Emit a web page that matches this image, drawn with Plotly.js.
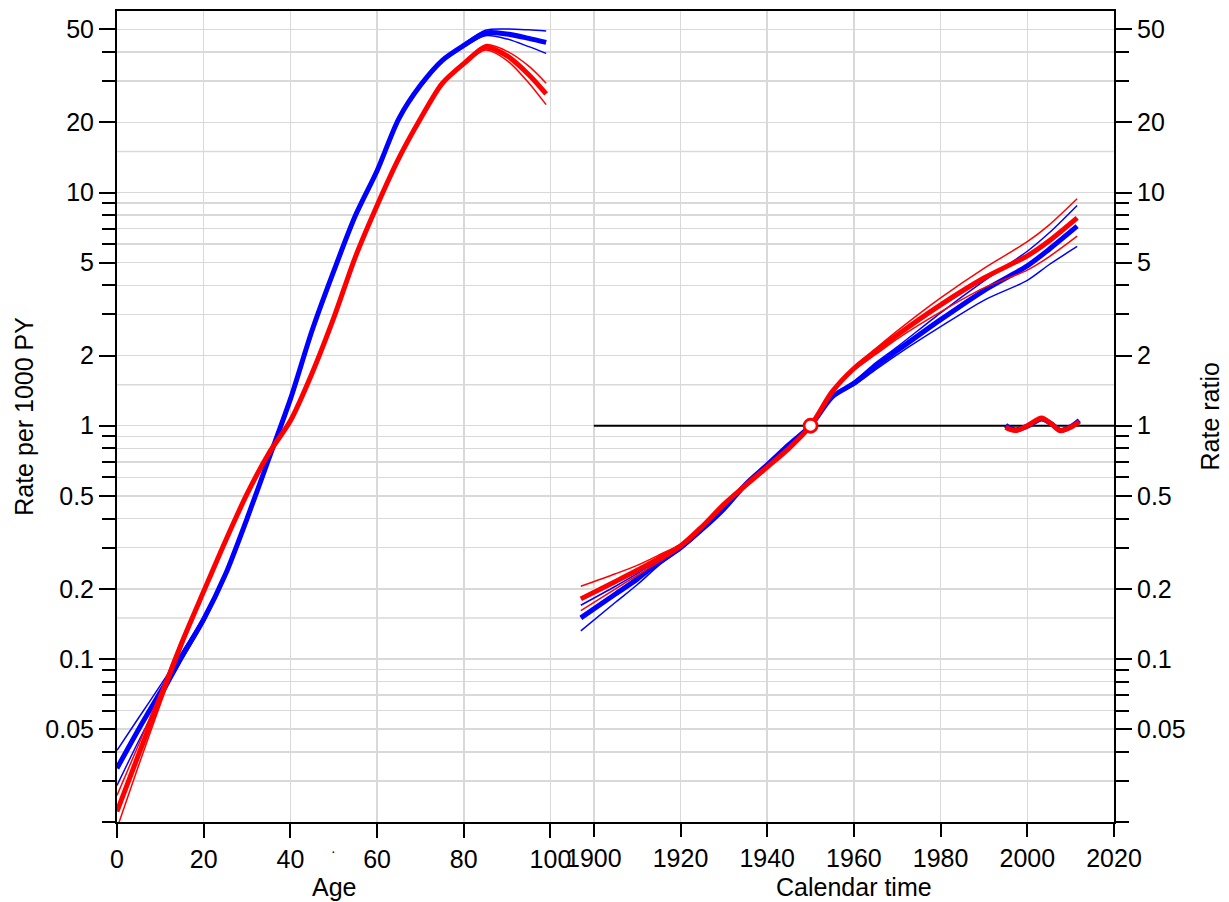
<!DOCTYPE html>
<html><head><meta charset="utf-8">
<script src="https://cdn.plot.ly/plotly-3.0.1.min.js"></script>
<style>html,body{margin:0;padding:0;background:#fff}#chart{width:1229px;height:902px}</style>
</head><body><div id="chart"></div>
<script>
// ---- Age effects (rate per 1000 PY) ----
const ages = [0,5,10,15,20,25,30,35,40,45,50,55,60,65,70,75,80,85,90,95,99];
const blueAge   = [0.034,0.050,0.072,0.103,0.148,0.23,0.40,0.72,1.30,2.56,4.60,7.96,12.4,20.7,28.8,36.8,42.7,48.3,47.8,45.8,44.0];
const blueAgeHi = [0.0406,0.056,0.077,0.107,0.152,0.235,0.405,0.725,1.31,2.58,4.63,8.0,12.5,20.85,29.0,37.1,43.3,49.6,50.2,49.8,49.3];
const blueAgeLo = [0.0287,0.0445,0.067,0.099,0.144,0.225,0.395,0.715,1.29,2.54,4.57,7.9,12.3,20.55,28.6,36.5,42.1,47.0,45.5,42.2,39.5];
const redAge    = [0.0222,0.039,0.068,0.118,0.195,0.32,0.51,0.76,1.05,1.68,2.9,5.3,8.8,14.0,20.7,29.3,35.7,41.9,38.5,32.0,26.5];
const redAgeHi  = [0.026,0.043,0.072,0.122,0.199,0.325,0.515,0.765,1.06,1.69,2.92,5.33,8.85,14.1,20.85,29.6,36.2,43.0,40.3,34.8,29.4];
const redAgeLo  = [0.0188,0.035,0.064,0.114,0.191,0.315,0.505,0.755,1.04,1.67,2.88,5.27,8.75,13.9,20.55,29.0,35.2,40.8,36.8,29.5,23.8];

// ---- Cohort effects (rate ratio) ----
const cohorts = [1897,1905,1910,1915,1920,1925,1930,1935,1940,1945,1950,1955,1960,1965,1970,1980,1990,2000,2005,2011.5];
const redCoh    = [0.181,0.215,0.24,0.27,0.305,0.37,0.46,0.555,0.665,0.80,1.0,1.40,1.76,2.08,2.45,3.3,4.3,5.35,6.2,7.79];
const redCohHi  = [0.205,0.232,0.252,0.279,0.311,0.375,0.465,0.558,0.667,0.801,1.0,1.41,1.79,2.14,2.55,3.53,4.73,6.15,7.25,9.4];
const redCohLo  = [0.161,0.2,0.228,0.261,0.299,0.365,0.455,0.552,0.663,0.799,1.0,1.39,1.73,2.02,2.36,3.08,3.9,4.65,5.3,6.5];
const blueCoh   = [0.150,0.19,0.22,0.26,0.30,0.36,0.44,0.56,0.68,0.83,1.0,1.33,1.52,1.8,2.1,2.85,3.8,4.85,5.7,7.17];
const blueCohHi = [0.17,0.205,0.232,0.268,0.306,0.365,0.445,0.563,0.682,0.831,1.0,1.34,1.55,1.86,2.18,3.05,4.18,5.6,6.7,8.8];
const blueCohLo = [0.132,0.175,0.208,0.252,0.294,0.355,0.435,0.557,0.678,0.829,1.0,1.32,1.49,1.74,2.02,2.66,3.45,4.2,4.9,5.87];

// ---- Period effects (rate ratio) ----
const periods = [1995,1996,1997.5,2000,2003.3,2005.5,2007.6,2010,2012];
const redPer  = [0.985,0.965,0.955,1.0,1.08,1.02,0.953,0.985,1.04];
const bluePer = [1.005,0.975,0.96,0.995,1.07,1.02,0.955,0.99,1.055];

const refYear = [1950], refRR = [1];
const refLineX = [1900,2020], refLineY = [1,1];

// ---- Axis ticks ----
const ageTicks = [0,20,40,60,80,100];
const calTicks = [1900,1920,1940,1960,1980,2000,2020];
const yMajor = [0.05,0.1,0.2,0.5,1,2,5,10,20,50];
const yMajorText = ['0.05','0.1','0.2','0.5','1','2','5','10','20','50'];
const yMinor = [0.02,0.03,0.04,0.06,0.07,0.08,0.09,0.3,0.4,0.6,0.7,0.8,0.9,3,4,6,7,8,9,30,40];
const yExtraGrid = [0.15,1.5,15];

const BLUE='#0000ff', RED='#ff0000', GRID='#d9d9d9';
const FONT='Liberation Sans, Arial, sans-serif';
const thick=5, thin=1.5;

function ln(x,y,color,w,xa,ya){return {x:x,y:y,type:'scatter',mode:'lines',xaxis:xa,yaxis:ya,
  line:{color:color,width:w,shape:'spline',smoothing:0.8},hoverinfo:'skip',showlegend:false};}

const traces = [
  {x:refLineX,y:refLineY,type:'scatter',mode:'lines',xaxis:'x2',yaxis:'y2',line:{color:'#000',width:2},showlegend:false,hoverinfo:'skip'},
  ln(ages,blueAgeHi,BLUE,thin,'x','y'), ln(ages,blueAgeLo,BLUE,thin,'x','y'), ln(ages,blueAge,BLUE,thick,'x','y'),
  ln(cohorts,blueCohHi,BLUE,thin,'x2','y2'), ln(cohorts,blueCohLo,BLUE,thin,'x2','y2'), ln(cohorts,blueCoh,BLUE,thick,'x2','y2'),
  ln(periods,bluePer,BLUE,thick,'x2','y2'),
  ln(ages,redAgeHi,RED,thin,'x','y'), ln(ages,redAgeLo,RED,thin,'x','y'), ln(ages,redAge,RED,thick,'x','y'),
  ln(cohorts,redCohHi,RED,thin,'x2','y2'), ln(cohorts,redCohLo,RED,thin,'x2','y2'), ln(cohorts,redCoh,RED,thick,'x2','y2'),
  ln(periods,redPer,RED,thick,'x2','y2'),
  {x:refYear,y:refRR,type:'scatter',mode:'markers',xaxis:'x2',yaxis:'y2',
   marker:{symbol:'circle',size:13,color:'#fff',line:{color:RED,width:2.8}},showlegend:false,hoverinfo:'skip'}
];

const yRange=[Math.log10(0.02),Math.log10(60)];
const tickFont={family:FONT,size:25,color:'#000'};
const yCommon = {type:'log',range:yRange,tickmode:'array',tickvals:yMajor,ticktext:yMajorText,
  ticks:'outside',ticklen:16,tickwidth:2,tickcolor:'#000',tickfont:tickFont,
  minor:{tickmode:'array',tickvals:yMinor,ticks:'outside',ticklen:13,tickwidth:2,tickcolor:'#000',showgrid:false},
  showline:true,linecolor:'#000',linewidth:2,zeroline:false,showgrid:false,fixedrange:true};

const layout = {
  width:1229,height:902,margin:{l:117,r:115,t:11,b:80},
  paper_bgcolor:'#fff',plot_bgcolor:'#fff',showlegend:false,
  font:{family:FONT,size:25,color:'#000'},
  xaxis:{range:[0,230],tickmode:'array',tickvals:ageTicks,ticks:'outside',ticklen:14,tickwidth:2,tickcolor:'#000',
    tickfont:tickFont,showgrid:true,gridcolor:GRID,gridwidth:1.5,showline:true,linecolor:'#000',linewidth:2,mirror:true,zeroline:false},
  xaxis2:{overlaying:'x',side:'bottom',anchor:'y',range:[1790,2020],tickmode:'array',tickvals:calTicks,ticks:'outside',ticklen:14,tickwidth:2,tickcolor:'#000',
    tickfont:tickFont,showgrid:true,gridcolor:GRID,gridwidth:1.5,showline:false,zeroline:false},
  yaxis:Object.assign({},yCommon,{side:'left',showgrid:true,gridcolor:GRID,gridwidth:1.5,
    minor:Object.assign({},yCommon.minor,{showgrid:true,gridcolor:GRID,gridwidth:1.5})}),
  yaxis2:Object.assign({},yCommon,{overlaying:'y',side:'right',anchor:'x'}),
  shapes: yExtraGrid.map(v=>({type:'line',xref:'paper',x0:0,x1:1,yref:'y',y0:v,y1:v,layer:'below',line:{color:GRID,width:1.5}})),
  annotations:[
    {text:'Age',xref:'x',x:50,yref:'paper',y:-0.080,showarrow:false,xanchor:'center',yanchor:'middle',font:{family:FONT,size:25}},
    {text:'Calendar time',xref:'x2',x:1960,yref:'paper',y:-0.080,showarrow:false,xanchor:'center',yanchor:'middle',font:{family:FONT,size:25}},
    {text:'·',xref:'x',x:50,yref:'paper',y:-0.036,showarrow:false,xanchor:'center',yanchor:'middle',font:{family:FONT,size:14}},
    {text:'Rate per 1000 PY',xref:'paper',x:-0.094,yref:'paper',y:0.5,textangle:-90,showarrow:false,xanchor:'center',yanchor:'middle',font:{family:FONT,size:25}},
    {text:'Rate ratio',xref:'paper',x:1.0953,yref:'paper',y:0.5,textangle:-90,showarrow:false,xanchor:'center',yanchor:'middle',font:{family:FONT,size:25}}
  ]
};

Plotly.newPlot('chart',traces,layout,{staticPlot:true,displayModeBar:false});
</script></body></html>
